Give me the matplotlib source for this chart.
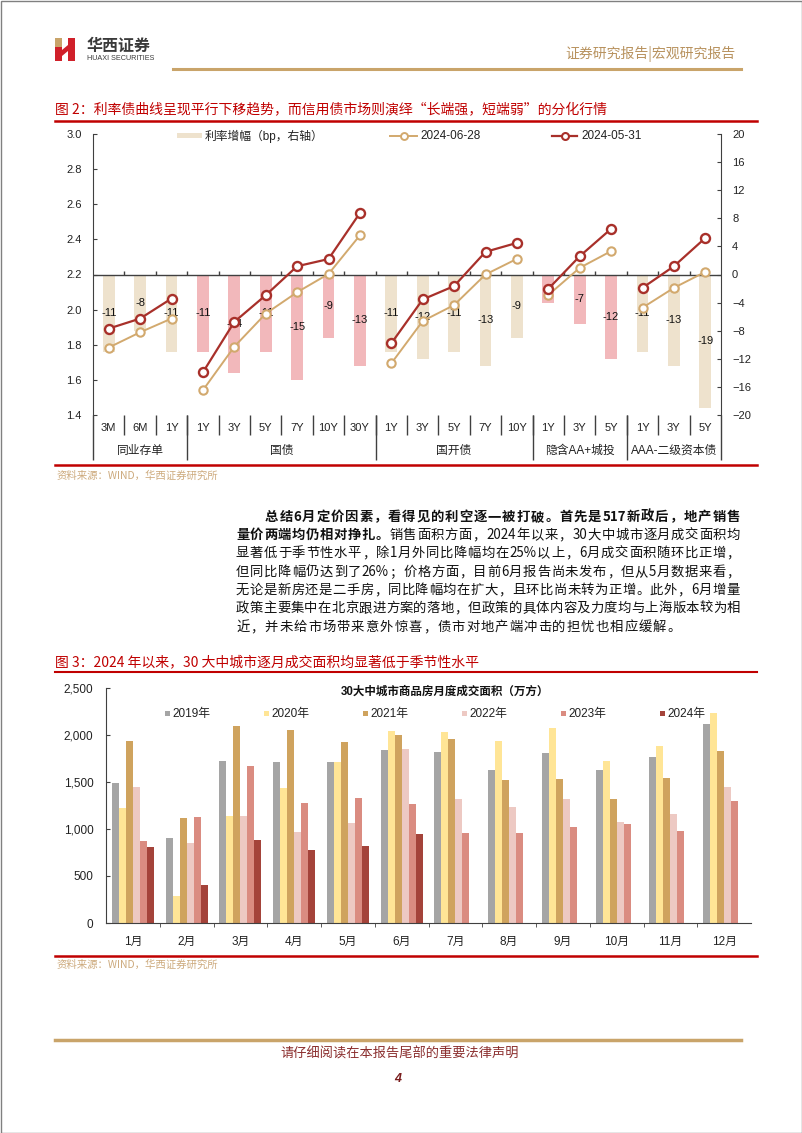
import numpy as np
import matplotlib
matplotlib.use("Agg")
import matplotlib.pyplot as plt
from matplotlib.patches import Rectangle, Polygon
from matplotlib.lines import Line2D
from matplotlib.transforms import blended_transform_factory

plt.rcParams['font.family'] = ['Liberation Sans', 'Noto Sans CJK SC']
CJK = ['Noto Sans CJK SC', 'DejaVu Sans']

# ---------------- data: figure 2 (yield curves) ----------------
tenors = ['3M', '6M', '1Y', '1Y', '3Y', '5Y', '7Y', '10Y', '30Y',
          '1Y', '3Y', '5Y', '7Y', '10Y', '1Y', '3Y', '5Y', '1Y', '3Y', '5Y']
groups = ['同业存单', '国债', '国开债', '隐含AA+城投', 'AAA-二级资本债']
group_sizes = [3, 6, 5, 3, 3]
yield_0628 = [1.784, 1.871, 1.949, 1.541, 1.789, 1.977, 2.099, 2.203, 2.423,
              1.694, 1.935, 2.026, 2.200, 2.289, 2.083, 2.238, 2.333, 2.011, 2.124, 2.215]
yield_0531 = [1.892, 1.949, 2.063, 1.643, 1.930, 2.082, 2.247, 2.288, 2.550,
              1.808, 2.058, 2.134, 2.329, 2.380, 2.118, 2.304, 2.460, 2.124, 2.247, 2.408]
bp_change = [-11, -8, -11, -11, -14, -11, -15, -9, -13,
             -11, -12, -11, -13, -9, -4, -7, -12, -11, -13, -19]

# ---------------- data: figure 3 (monthly sales area) ----------------
months = ['1月', '2月', '3月', '4月', '5月', '6月', '7月', '8月', '9月', '10月', '11月', '12月']
years = ['2019年', '2020年', '2021年', '2022年', '2023年', '2024年']
area_2019 = [1485, 909, 1722, 1711, 1711, 1839, 1821, 1627, 1810, 1627, 1764, 2118]
area_2020 = [1220, 290, 1139, 1439, 1715, 2040, 2030, 1934, 2072, 1722, 1881, 2235]
area_2021 = [1934, 1121, 2097, 2051, 1924, 1998, 1955, 1520, 1531, 1315, 1542, 1828]
area_2022 = [1450, 856, 1142, 969, 1068, 1846, 1315, 1231, 1315, 1078, 1156, 1443]
area_2023 = [873, 1132, 1669, 1280, 1326, 1262, 962, 955, 1025, 1050, 983, 1298]
area_2024 = [810, 407, 884, 778, 820, 944]
year_colors = ['#A5A5A5', '#FFE596', '#CFA35E', '#EDC9C3', '#DA8C81', '#A4433A']

W, H = 802, 1133
fig = plt.figure(figsize=(W / 100, H / 100), dpi=100)


def rect(x0, y0, x1, y1):
    return [x0 / W, 1 - y1 / H, (x1 - x0) / W, (y1 - y0) / H]


# overlay for page decorations, in pixel coordinates
ov = fig.add_axes([0, 0, 1, 1])
ov.set_xlim(0, W)
ov.set_ylim(H, 0)
ov.axis('off')

ov.add_patch(Rectangle((0.5, 0.5), W - 1, H - 1, fill=False, ec='#808080', lw=1))

# logo
ov.add_patch(Rectangle((55, 38), 7, 9, color='#C9A46A', lw=0))
ov.add_patch(Rectangle((55, 47), 7, 14, color='#D0202A', lw=0))
ov.add_patch(Rectangle((68, 38), 7, 23, color='#D0202A', lw=0))
ov.add_patch(Polygon([(62, 50), (68, 45), (68, 51), (62, 56)], color='#D0202A', lw=0))
ov.text(87, 46, '华西证券', fontsize=11.5, fontweight='bold', color='#3A3A3A',
        va='center', family=CJK)
ov.text(87, 59, 'HUAXI SECURITIES', fontsize=5.2, color='#3A3A3A', va='center')
ov.text(735, 54, '证券研究报告|宏观研究报告', fontsize=10, color='#B8925E',
        va='center', ha='right', family=CJK)
ov.plot([173, 741], [69, 69], color='#C9A46A', lw=2.2)

# figure titles and rules
red = '#C00000'
ov.text(55, 110, '图 2：利率债曲线呈现平行下移趋势，而信用债市场则演绎“长端强，短端弱”的分化行情',
        fontsize=10, color=red, va='center', family=CJK)
ov.plot([55, 757], [121, 121], color=red, lw=1.8)
ov.plot([55, 757], [465, 465], color=red, lw=1.8)
ov.text(57, 476, '资料来源：WIND，华西证券研究所', fontsize=7.5, color='#CDAA7D',
        va='center', family=CJK)

ov.text(55, 662, '图 3：2024 年以来，30 大中城市逐月成交面积均显著低于季节性水平',
        fontsize=10, color=red, va='center', family=CJK)
ov.plot([55, 757], [672, 672], color=red, lw=1.5)
ov.plot([55, 757], [956, 956], color=red, lw=1.8)
ov.text(57, 965, '资料来源：WIND，华西证券研究所', fontsize=7.5, color='#CDAA7D',
        va='center', family=CJK)

# footer
ov.plot([55, 741], [1040, 1040], color='#C9A46A', lw=2.5)
ov.text(400, 1054, '请仔细阅读在本报告尾部的重要法律声明', fontsize=9.5, color='#8B2E2E',
        va='center', ha='center', family=CJK)
ov.text(398, 1079, '4', fontsize=9, color='#7A1E1E', fontweight='bold', style='italic',
        va='center', ha='center')

# ---------------- body paragraph (justified) ----------------
renderer = fig.canvas.get_renderer()


def text_line(y, x0, x1, segs, size=9.6, justify=True):
    tokens = []
    for txt, wt in segs:
        buf = ''
        for ch in txt:
            if ch.isascii() and ch != ' ':
                buf += ch
            else:
                if buf:
                    tokens.append((buf, wt))
                    buf = ''
                if ch != ' ':
                    tokens.append((ch, wt))
        if buf:
            tokens.append((buf, wt))
    arts, widths = [], []
    for t, wt in tokens:
        a = ov.text(0, y, t, fontsize=size, fontweight=wt, color='#111111',
                    va='center', ha='left', family=CJK)
        arts.append(a)
        widths.append(a.get_window_extent(renderer).width)
    gap = (x1 - x0 - sum(widths)) / (len(tokens) - 1) if justify else 1.0
    x = x0
    for a, wd in zip(arts, widths):
        a.set_x(x)
        x += wd + gap


para_y = [517, 535, 553, 572, 590, 608, 627]
text_line(para_y[0], 265, 740, [('总结 6 月定价因素，看得见的利空逐一被打破。首先是 517 新政后，地产销售', 'bold')])
text_line(para_y[1], 236, 740, [('量价两端均仍相对挣扎。', 'bold'),
                                ('销售面积方面，2024 年以来，30 大中城市逐月成交面积均', 'normal')])
text_line(para_y[2], 236, 740, [('显著低于季节性水平，除 1 月外同比降幅均在 25%以上，6 月成交面积随环比正增，', 'normal')])
text_line(para_y[3], 236, 740, [('但同比降幅仍达到了 26%；价格方面，目前6月报告尚未发布，但从 5 月数据来看，', 'normal')])
text_line(para_y[4], 236, 740, [('无论是新房还是二手房，同比降幅均在扩大，且环比尚未转为正增。此外，6 月增量', 'normal')])
text_line(para_y[5], 236, 740, [('政策主要集中在北京跟进方案的落地，但政策的具体内容及力度均与上海版本较为相', 'normal')])
text_line(para_y[6], 236, 740, [('近，并未给市场带来意外惊喜，债市对地产端冲击的担忧也相应缓解。', 'normal')],
          justify=False)

# ---------------- chart 1 ----------------
axis_col = '#404040'
ax = fig.add_axes(rect(93, 134, 721, 415))
ax.set_facecolor('none')
ax2 = ax.twinx()
x = np.arange(len(tenors))
beige, pink = '#EEE2CD', '#F2B8BB'
group_cols = [beige, pink, beige, pink, beige]
bar_cols = []
for g, n in enumerate(group_sizes):
    bar_cols += [group_cols[g]] * n
bars = ax.bar(x, bp_change, width=0.38, color=bar_cols, zorder=2)
ax.bar_label(bars, labels=[str(v) for v in bp_change], label_type='center', fontsize=8,
             color='#111111')
ax.set_xlim(-0.5, len(tenors) - 0.5)
ax.set_ylim(-20, 20)
ax.set_yticks(range(-20, 21, 4))
ax.yaxis.tick_right()
ax.tick_params(axis='y', direction='in', length=3, pad=8, labelsize=8,
               colors='#222222', color=axis_col)
ax.set_xticks([])
for s in ['top', 'bottom']:
    ax.spines[s].set_visible(False)
for s in ['left', 'right']:
    ax.spines[s].set_color(axis_col)
ax.axhline(0, color=axis_col, lw=1, zorder=3)
ax.vlines(np.arange(0.5, len(tenors) - 0.5), 0, 0.5, color=axis_col, lw=1, zorder=3)

start = 0
for n in group_sizes:
    seg = slice(start, start + n)
    ax2.plot(x[seg], yield_0628[seg], color='#D2A96E', lw=1.4, marker='o', ms=6,
             mfc='white', mec='#D2A96E', mew=1.5)
    ax2.plot(x[seg], yield_0531[seg], color='#A8302A', lw=1.6, marker='o', ms=6.5,
             mfc='white', mec='#A8302A', mew=1.7)
    start += n
ax2.set_ylim(1.4, 3.0)
ax2.set_yticks(np.arange(1.4, 3.01, 0.2))
ax2.set_yticklabels([f'{v:.1f}' for v in np.arange(1.4, 3.01, 0.2)])
ax2.yaxis.tick_left()
ax2.tick_params(axis='y', direction='in', length=3, pad=8, labelsize=8,
                colors='#222222', color=axis_col)
for s in ax2.spines.values():
    s.set_visible(False)

# multi-level category axis below the plot
tr = blended_transform_factory(ax.transData, ax.transAxes)
ax.vlines([-0.5, len(tenors) - 0.5], -0.16, 0, transform=tr, clip_on=False,
          color=axis_col, lw=1)
ax.vlines(np.arange(0.5, len(tenors) - 0.5), -0.071, 0, transform=tr, clip_on=False,
          color=axis_col, lw=1)
bounds = np.cumsum(group_sizes)[:-1] - 0.5
ax.vlines(bounds, -0.16, 0, transform=tr, clip_on=False, color=axis_col, lw=1)
for i, t in enumerate(tenors):
    ax.text(i, -0.046, t, transform=tr, ha='center', va='center', fontsize=8,
            color='#222222')
starts = np.concatenate([[0], np.cumsum(group_sizes)[:-1]])
for g, (s0, n) in enumerate(zip(starts, group_sizes)):
    ax.text(s0 + (n - 1) / 2, -0.128, groups[g], transform=tr, ha='center',
            va='center', fontsize=8.5, color='#222222')

# ---------------- chart 2 ----------------
ax3 = fig.add_axes(rect(106, 688, 751, 923))
ax3.set_facecolor('none')
series = [area_2019, area_2020, area_2021, area_2022, area_2023, area_2024]
bw = 0.13
for i, vals in enumerate(series):
    xs = np.arange(len(vals)) + (i - 2.5) * bw
    ax3.bar(xs, vals, width=bw, color=year_colors[i], lw=0)
ax3.set_xlim(-0.5, len(months) - 0.5)
ax3.set_ylim(0, 2500)
ax3.set_yticks(range(0, 2501, 500))
ax3.set_yticklabels([f'{v:,}' for v in range(0, 2501, 500)])
ax3.set_xticks(range(len(months)))
ax3.set_xticklabels(months)
ax3.set_xticks(np.arange(0.5, len(months) - 0.5), minor=True)
ax3.tick_params(axis='x', which='major', length=0, pad=9, labelsize=8.5, colors='#222222')
ax3.tick_params(axis='x', which='minor', direction='out', length=3, color=axis_col)
ax3.tick_params(axis='y', direction='in', length=3, pad=9, labelsize=8.5,
                colors='#222222', color=axis_col)
for s in ['top', 'right']:
    ax3.spines[s].set_visible(False)
for s in ['left', 'bottom']:
    ax3.spines[s].set_color(axis_col)

# ---------------- legends / in-chart titles, drawn on top ----------------
top = fig.add_axes([0, 0, 1, 1])
top.set_xlim(0, W)
top.set_ylim(H, 0)
top.axis('off')

top.add_patch(Rectangle((177, 133), 25, 5, color=beige, lw=0))
top.text(205, 136, '利率增幅（bp，右轴）', fontsize=8.5, va='center', color='#222222')
top.add_line(Line2D([390, 417], [136, 136], color='#D2A96E', lw=1.4))
top.plot([403.5], [136], marker='o', ms=5, mfc='white', mec='#D2A96E', mew=1.4)
top.text(420, 136, '2024-06-28', fontsize=8.5, va='center', color='#222222')
top.add_line(Line2D([552, 577], [136, 136], color='#A8302A', lw=1.6))
top.plot([564.5], [136], marker='o', ms=5, mfc='white', mec='#A8302A', mew=1.5)
top.text(581, 136, '2024-05-31', fontsize=8.5, va='center', color='#222222')

top.text(445, 692, '30大中城市商品房月度成交面积（万方）', fontsize=8.3, fontweight='bold',
         ha='center', va='center', color='#111111')
leg_x = [165, 264, 363, 462, 561, 660]
for lx, lab, col in zip(leg_x, years, year_colors):
    top.add_patch(Rectangle((lx, 711), 5, 5, color=col, lw=0))
    top.text(lx + 7, 713.5, lab, fontsize=8.5, va='center', color='#222222')

fig.savefig('out.png', dpi=100)
